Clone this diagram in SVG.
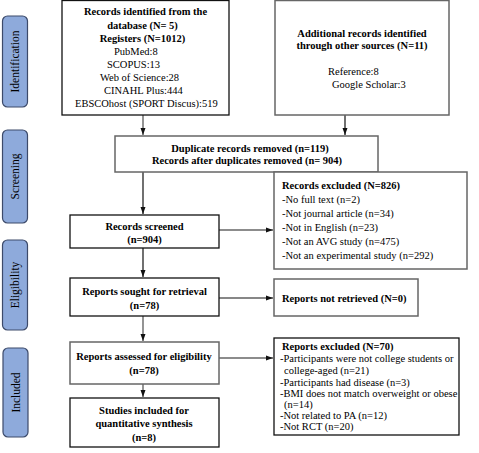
<svg xmlns="http://www.w3.org/2000/svg" width="479" height="453" viewBox="0 0 479 453">
<style>
text{font-family:"Liberation Serif","Times New Roman",serif;font-size:10.5px;fill:#000}
.b{font-weight:bold}
.c{text-anchor:middle}
.phase{fill:#8eaadb;stroke:#3c4a6a;stroke-width:1.2}
.pt{font-size:11.5px;text-anchor:middle}
.box{fill:#fff;stroke:#111;stroke-width:1.3}
.gbox{fill:#fff;stroke:#666;stroke-width:1.5}
.ln{stroke:#111;stroke-width:1.2;fill:none}
.gln{stroke:#666;stroke-width:1.4;fill:none}
</style>
<defs>
<marker id="ah" markerWidth="8" markerHeight="8" refX="7" refY="4" orient="auto" markerUnits="userSpaceOnUse">
<path d="M0,1.5 L7,4 L0,6.5 Z" fill="#111"/>
</marker>
</defs>
<rect width="479" height="453" fill="#fff"/>

<g id="phase-identification">
<rect class="phase" x="2.5" y="16" width="25" height="91" rx="5"/>
<text class="pt" transform="translate(19,61.5) rotate(-90)">Identification</text>
</g>
<g id="phase-screening">
<rect class="phase" x="2.5" y="130" width="25" height="93" rx="5"/>
<text class="pt" transform="translate(19,176.5) rotate(-90)">Screening</text>
</g>
<g id="phase-eligibility">
<rect class="phase" x="2.5" y="240" width="25" height="90" rx="5"/>
<text class="pt" transform="translate(19,285) rotate(-90)">Eligibility</text>
</g>
<g id="phase-included">
<rect class="phase" x="3" y="348" width="25" height="89" rx="5"/>
<text class="pt" transform="translate(19.5,392.5) rotate(-90)">Included</text>
</g>

<g id="connectors">
<line class="gln" x1="143" y1="115" x2="143" y2="135" marker-end="url(#ah)"/>
<line class="ln" x1="345" y1="115" x2="345" y2="135" marker-end="url(#ah)"/>
<line class="ln" x1="143" y1="172" x2="143" y2="214" marker-end="url(#ah)"/>
<line class="gln" x1="219" y1="230" x2="273" y2="230" marker-end="url(#ah)"/>
<line class="ln" x1="143" y1="248" x2="143" y2="277" marker-end="url(#ah)"/>
<line class="ln" x1="219" y1="298" x2="273" y2="298" marker-end="url(#ah)"/>
<line class="gln" x1="143" y1="316" x2="143" y2="341" marker-end="url(#ah)"/>
<line class="gln" x1="219" y1="358" x2="273" y2="358" marker-end="url(#ah)"/>
<line class="gln" x1="143" y1="384" x2="143" y2="397" marker-end="url(#ah)"/>
</g>

<g id="records-database">
<rect class="box" x="62" y="0.5" width="167" height="114.5"/>
<text class="b c" x="145.5" y="15">Records identified from the</text>
<text class="b c" x="142.5" y="29">database (N= 5)</text>
<text class="b c" x="142.5" y="42">Registers (N=1012)</text>
<text x="114" y="55">PubMed:8</text>
<text x="107" y="68">SCOPUS:13</text>
<text x="100" y="81">Web of Science:28</text>
<text x="104" y="94">CINAHL Plus:444</text>
<text x="75" y="107">EBSCOhost (SPORT Discus):519</text>
</g>

<g id="records-other">
<rect class="gbox" x="275" y="0.5" width="174" height="114.5"/>
<text class="b c" x="362" y="37">Additional records identified</text>
<text class="b c" x="362" y="49">through other sources (N=11)</text>
<text x="328" y="75">Reference:8</text>
<text x="332" y="88">Google Scholar:3</text>
</g>

<g id="duplicates">
<rect class="gbox" x="115" y="136" width="263" height="36"/>
<text class="b c" x="250" y="152">Duplicate records removed (n=119)</text>
<text class="b c" x="247" y="164">Records after duplicates removed (n= 904)</text>
</g>

<g id="records-screened">
<rect class="box" x="70" y="215" width="149" height="33"/>
<text class="b c" x="144.5" y="230">Records screened</text>
<text class="b c" x="144.5" y="243">(n=904)</text>
</g>

<g id="records-excluded">
<rect class="gbox" x="274" y="172" width="193" height="97"/>
<text class="b" x="282" y="189">Records excluded (N=826)</text>
<text x="282" y="203">-No full text (n=2)</text>
<text x="282" y="217">-Not journal article (n=34)</text>
<text x="282" y="231">-Not in English (n=23)</text>
<text x="282" y="245">-Not an AVG study (n=475)</text>
<text x="282" y="259">-Not an experimental study (n=292)</text>
</g>

<g id="reports-sought">
<rect class="box" x="70" y="278" width="149" height="38"/>
<text class="b c" x="144.5" y="295">Reports sought for retrieval</text>
<text class="b c" x="144.5" y="309">(n=78)</text>
</g>

<g id="reports-not-retrieved">
<rect class="gbox" x="274" y="279" width="144" height="37"/>
<text class="b" x="282" y="302">Reports not retrieved (N=0)</text>
</g>

<g id="reports-assessed">
<rect class="gbox" x="70" y="342" width="149" height="42"/>
<text class="b c" x="144" y="360">Reports assessed for eligibility</text>
<text class="b c" x="144" y="374">(n=78)</text>
</g>

<g id="reports-excluded">
<rect class="box" x="274" y="338" width="185" height="97"/>
<text class="b" x="282" y="350">Reports excluded (N=70)</text>
<text x="280" y="362">-Participants were not college students or</text>
<text x="284" y="374">college-aged (n=21)</text>
<text x="280" y="386">-Participants had disease (n=3)</text>
<text x="280" y="397">-BMI does not match overweight or obese</text>
<text x="284" y="408">(n=14)</text>
<text x="280" y="419">-Not related to PA (n=12)</text>
<text x="280" y="430">-Not RCT (n=20)</text>
</g>

<g id="studies-included">
<rect class="box" x="70" y="398" width="149" height="49"/>
<text class="b c" x="144" y="414">Studies included for</text>
<text class="b c" x="144" y="427">quantitative synthesis</text>
<text class="b c" x="144" y="441">(n=8)</text>
</g>
</svg>
